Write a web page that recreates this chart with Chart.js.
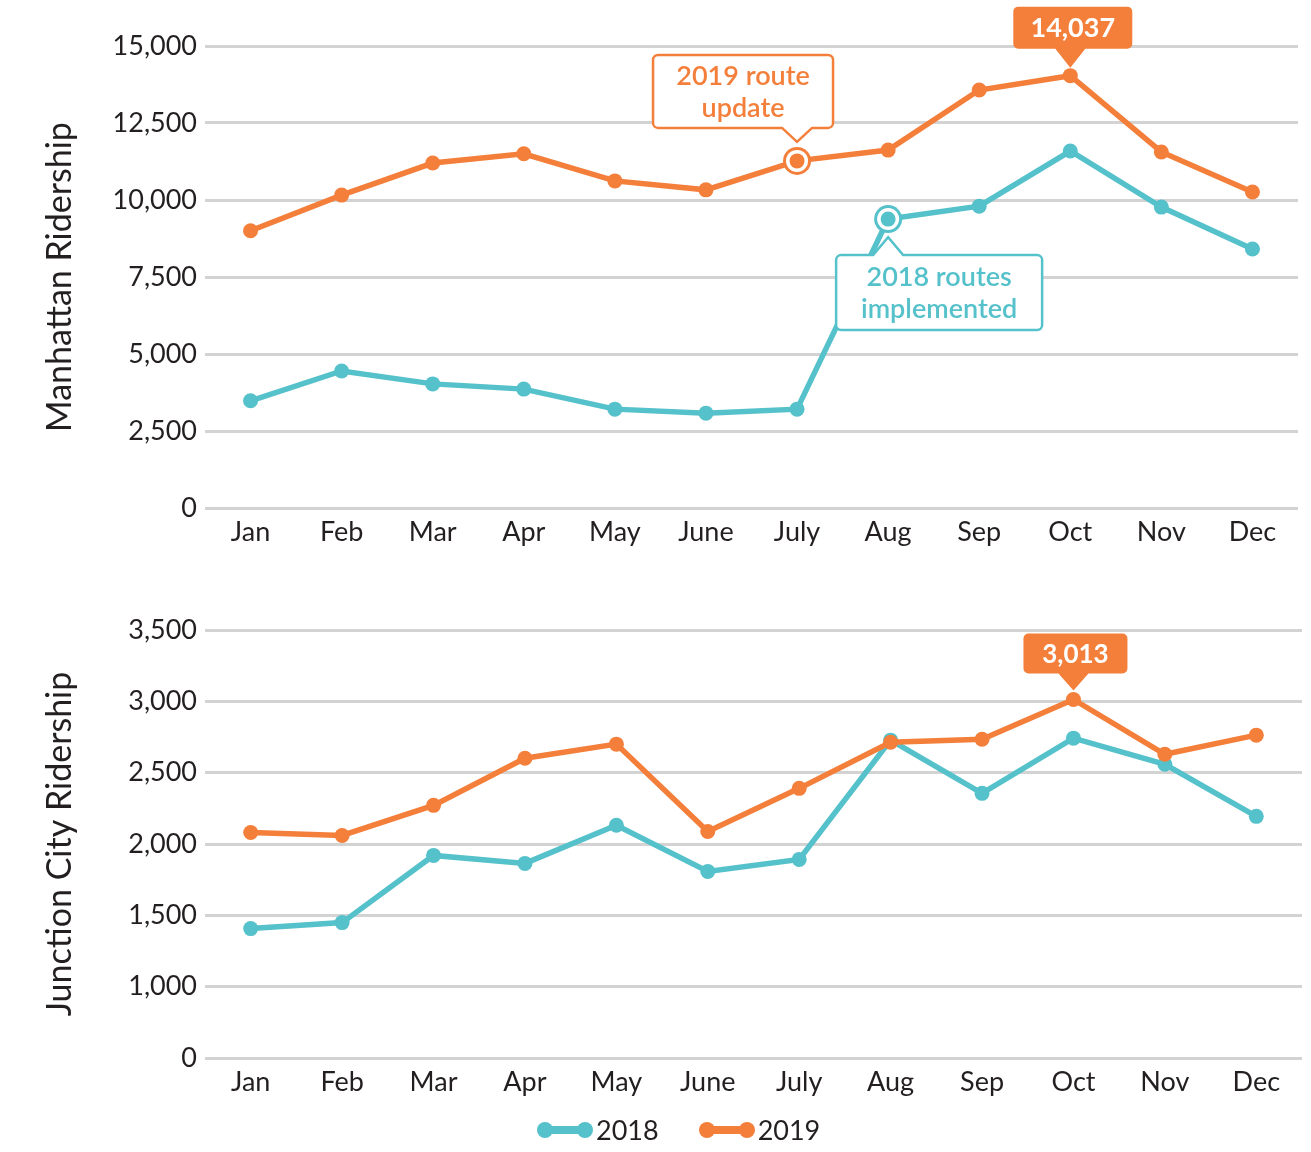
<!DOCTYPE html>
<html>
<head>
<meta charset="utf-8">
<title>Ridership</title>
<script src="https://cdn.jsdelivr.net/npm/chart.js@4.4.0/dist/chart.umd.min.js"></script>
<style>
  html, body { margin: 0; padding: 0; background: #fff; }
  body { width: 1311px; height: 1152px; position: relative; overflow: hidden; font-family: Lato, sans-serif; }
  .box { position: absolute; left: 0; width: 1311px; }
  #topBox { top: 0; height: 560px; }
  #bottomBox { top: 560px; height: 592px; }
  #legend { position: absolute; left: 537px; top: 1111px; height: 38px; display: flex; align-items: center; gap: 40px; }
  .item { display: flex; align-items: center; gap: 3px; font-size: 27px; color: #231f20; line-height: 38px; }
  .swatch { position: relative; width: 56px; height: 16px; }
  .swatch .bar { position: absolute; left: 8px; right: 8px; top: 4px; height: 8px; }
  .swatch .dot { position: absolute; top: 0; width: 16px; height: 16px; border-radius: 50%; }
</style>
</head>
<body>
<div id="topBox" class="box"><canvas id="manhattanChart"></canvas></div>
<div id="bottomBox" class="box"><canvas id="junctionChart"></canvas></div>
<div id="legend"></div>
<script>
// Data
const months = ['Jan', 'Feb', 'Mar', 'Apr', 'May', 'June', 'July', 'Aug', 'Sep', 'Oct', 'Nov', 'Dec'];
const seriesNames = ['2018', '2019'];
const manhattan2018 = [3480, 4450, 4030, 3860, 3210, 3080, 3210, 9380, 9800, 11590, 9770, 8410];
const manhattan2019 = [9000, 10160, 11200, 11500, 10620, 10330, 11270, 11620, 13570, 14037, 11560, 10260];
const junction2018 = [1407, 1449, 1920, 1864, 2131, 1808, 1892, 2728, 2355, 2742, 2559, 2194];
const junction2019 = [2081, 2060, 2271, 2601, 2700, 2088, 2390, 2713, 2734, 3013, 2629, 2763];
const manhattanTicks = [0, 2500, 5000, 7500, 10000, 12500, 15000];
const junctionTicks = [500, 1000, 1500, 2000, 2500, 3000, 3500];
const junctionTickLabels = ['0', '1,000', '1,500', '2,000', '2,500', '3,000', '3,500'];

const teal = '#55c1ca';
const orange = '#f47f3b';
const textColor = '#231f20';
const gridColor = '#d3d3d3';

Chart.defaults.font.family = 'Lato, sans-serif';
Chart.defaults.color = textColor;

// rounded box with a pointer on its top or bottom edge
function calloutPath(ctx, x, y, w, h, r, tipX, tipY, half) {
    const top = tipY < y;
    ctx.beginPath();
    ctx.moveTo(x + r, y);
    if (top) {
        ctx.lineTo(tipX - half, y);
        ctx.lineTo(tipX, tipY);
        ctx.lineTo(tipX + half, y);
    }
    ctx.lineTo(x + w - r, y);
    ctx.arcTo(x + w, y, x + w, y + r, r);
    ctx.lineTo(x + w, y + h - r);
    ctx.arcTo(x + w, y + h, x + w - r, y + h, r);
    if (!top) {
        ctx.lineTo(tipX + half, y + h);
        ctx.lineTo(tipX, tipY);
        ctx.lineTo(tipX - half, y + h);
    }
    ctx.lineTo(x + r, y + h);
    ctx.arcTo(x, y + h, x, y + h - r, r);
    ctx.lineTo(x, y + r);
    ctx.arcTo(x, y, x + r, y, r);
    ctx.closePath();
}

const calloutPlugin = {
    id: 'callouts',
    afterDatasetsDraw(chart, args, opts) {
        const ctx = chart.ctx;
        (opts.items || []).forEach(item => {
            const pt = chart.getDatasetMeta(item.dataset).data[item.index];
            const value = chart.data.datasets[item.dataset].data[item.index];
            const color = chart.data.datasets[item.dataset].borderColor;
            const x = pt.x, y = pt.y;
            ctx.save();
            if (item.ring) {
                [[14, color], [11, '#fff'], [7.5, color]].forEach(([r, c]) => {
                    ctx.beginPath();
                    ctx.arc(x, y, r, 0, Math.PI * 2);
                    ctx.fillStyle = c;
                    ctx.fill();
                });
            }
            const bx = x + item.box[0], by = y + item.box[1];
            const bw = item.box[2], bh = item.box[3];
            calloutPath(ctx, bx, by, bw, bh, 5, x, y + item.tip, 15);
            if (item.filled) {
                ctx.fillStyle = color;
                ctx.fill();
            } else {
                ctx.fillStyle = '#fff';
                ctx.fill();
                ctx.lineWidth = 2.5;
                ctx.strokeStyle = color;
                ctx.stroke();
            }
            const lines = item.text || [value.toLocaleString('en-US')];
            ctx.fillStyle = item.filled ? '#fff' : color;
            ctx.font = item.font;
            ctx.textAlign = 'center';
            ctx.textBaseline = 'middle';
            const cx = bx + bw / 2, cy = by + bh / 2 + 1;
            lines.forEach((line, i) => {
                ctx.fillText(line, cx, cy + (i - (lines.length - 1) / 2) * 32);
            });
            ctx.restore();
        });
    }
};

function makeDataset(label, data, color, order) {
    return {
        label,
        data,
        borderColor: color,
        backgroundColor: color,
        borderWidth: 5.5,
        pointRadius: 7.5,
        pointHoverRadius: 7.5,
        pointBorderWidth: 0,
        pointBackgroundColor: color,
        tension: 0,
        order
    };
}

function makeChart(id, d2018, d2019, tickValues, tickLabels, title, pad, xHeight, callouts) {
    const ctx = document.getElementById(id).getContext('2d');
    return new Chart(ctx, {
        type: 'line',
        data: {
            labels: months,
            datasets: [
                makeDataset(seriesNames[0], d2018, teal, 1),
                makeDataset(seriesNames[1], d2019, orange, 0)
            ]
        },
        options: {
            responsive: true,
            maintainAspectRatio: false,
            animation: false,
            layout: { padding: pad },
            plugins: {
                legend: { display: false },
                tooltip: { enabled: false },
                callouts: { items: callouts }
            },
            scales: {
                x: {
                    offset: true,
                    grid: { display: false },
                    border: { display: false },
                    ticks: { padding: 0, font: { size: 27 }, color: textColor, maxRotation: 0 },
                    afterFit: s => { s.height = xHeight; }
                },
                y: {
                    min: tickValues[0],
                    max: tickValues[tickValues.length - 1],
                    afterBuildTicks: s => { s.ticks = tickValues.map(v => ({ value: v })); },
                    grid: { color: gridColor, lineWidth: 3, drawTicks: false },
                    border: { display: false },
                    ticks: {
                        padding: 8,
                        font: { size: 27 },
                        color: textColor,
                        callback: (v, i) => tickLabels ? tickLabels[i] : v.toLocaleString('en-US')
                    },
                    title: {
                        display: true,
                        text: title,
                        font: { size: 34 },
                        color: textColor,
                        padding: { top: 40, bottom: 0 }
                    },
                    afterFit: s => { s.width = 205; }
                }
            }
        },
        plugins: [calloutPlugin]
    });
}

const peak2019 = manhattan2019.indexOf(Math.max(...manhattan2019));
const peakJunction = junction2019.indexOf(Math.max(...junction2019));

makeChart('manhattanChart', manhattan2018, manhattan2019, manhattanTicks, null, 'Manhattan Ridership',
    { top: 46, right: 13, left: 0, bottom: 0 }, 52, [
        { dataset: 1, index: 6, ring: true, text: ['2019 route', 'update'], box: [-144, -106, 180, 73], tip: -19, font: '600 27px Lato, sans-serif' },
        { dataset: 0, index: 7, ring: true, text: ['2018 routes', 'implemented'], box: [-52, 36, 206, 75], tip: 18, font: '600 27px Lato, sans-serif' },
        { dataset: 1, index: peak2019, filled: true, box: [-57, -69, 119, 42], tip: -8, font: 'bold 27px Lato, sans-serif' }
    ]);

makeChart('junctionChart', junction2018, junction2019, junctionTicks, junctionTickLabels, 'Junction City Ridership',
    { top: 70, right: 9, left: 0, bottom: 0 }, 94, [
        { dataset: 1, index: peakJunction, filled: true, box: [-50, -66, 104, 40], tip: -9, font: 'bold 26px Lato, sans-serif' }
    ]);

// Legend
const legend = document.getElementById('legend');
[teal, orange].forEach((color, i) => {
    const item = document.createElement('div');
    item.className = 'item';
    item.innerHTML = `
        <div class="swatch">
            <div class="bar" style="background:${color}"></div>
            <div class="dot" style="left:0;background:${color}"></div>
            <div class="dot" style="right:0;background:${color}"></div>
        </div>
        <span>${seriesNames[i]}</span>`;
    legend.appendChild(item);
});
</script>
</body>
</html>
